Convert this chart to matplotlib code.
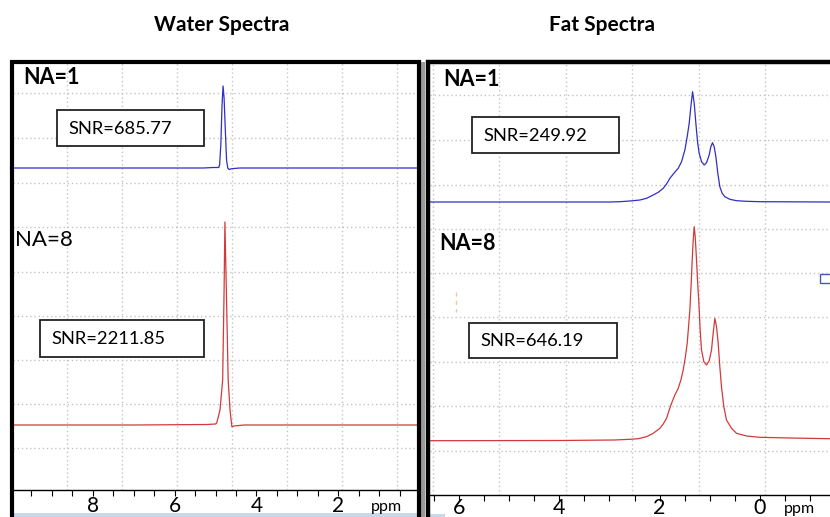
import matplotlib.pyplot as plt
from matplotlib.patches import Rectangle
from matplotlib.ticker import MultipleLocator

W, H = 830, 517

# spectra: chemical shift (ppm) vs signal (a.u., 0 = axis line)
water_na1_ppm = [9.95, 6.0, 5.3, 5.05, 4.95, 4.92, 4.90, 4.87, 4.84, 4.815, 4.79, 4.76,
                 4.73, 4.70, 4.67, 4.64, 4.55, 4.40, 3.0, 0.05]
water_na1_sig = [322, 322, 322, 322.5, 322.5, 322.5, 325, 345, 385, 404, 392, 360,
                 330, 322, 320.5, 321, 321.5, 322, 322, 322]

water_na8_ppm = [9.95, 7.0, 5.2, 5.0, 4.97, 4.89, 4.825, 4.79, 4.77, 4.73, 4.69, 4.645,
                 4.60, 4.55, 4.3, 2.0, 0.05]
water_na8_sig = [65, 65, 65.5, 66, 67, 80, 110, 200, 268, 190, 110, 80,
                 63.3, 64, 65, 65, 65]

fat_na1_ppm = [6.58, 4.0, 3.0, 2.791, 2.592, 2.392, 2.259, 2.127, 2.027, 1.927, 1.861,
               1.794, 1.715, 1.628, 1.562, 1.495, 1.449, 1.409, 1.376, 1.342, 1.309,
               1.276, 1.243, 1.210, 1.163, 1.110, 1.064, 1.010, 0.977, 0.944, 0.911,
               0.877, 0.838, 0.798, 0.751, 0.698, 0.598, 0.465, 0.266, 0.0, -1.40]
fat_na1_sig = [293, 293, 293, 293.3, 294.0, 295, 296.7, 300, 302.7, 306.7, 311,
               316.7, 321.7, 326.7, 333.3, 345, 358.3, 371.7, 388.3, 403.3, 391.7,
               371.7, 353.3, 341.7, 333.3, 330, 332.3, 340, 348.3, 352.3, 348.3,
               338.3, 321.7, 308.3, 301.7, 298.3, 295.7, 294.3, 293.7, 293.3, 293]

fat_na8_ppm = [6.58, 4.0, 2.9, 2.592, 2.426, 2.259, 2.127, 1.994, 1.927, 1.861, 1.808,
               1.761, 1.695, 1.628, 1.575, 1.529, 1.489, 1.449, 1.422, 1.396, 1.369,
               1.349, 1.329, 1.309, 1.289, 1.263, 1.243, 1.216, 1.190, 1.163, 1.117,
               1.064, 1.010, 0.964, 0.931, 0.897, 0.864, 0.831, 0.798, 0.765, 0.718,
               0.665, 0.565, 0.466, 0.266, 0.0, -0.6, -1.40]
fat_na8_sig = [54.3, 54.5, 55, 55.7, 56.3, 58.3, 61.7, 66.7, 71, 76.7, 85,
               91.7, 100, 106.7, 115, 125, 136.7, 151.7, 168.3, 185, 211.7,
               235, 255, 268.3, 258.3, 235, 215, 191.7, 165, 145, 133.3,
               130, 134.3, 145, 161.7, 176.7, 168.3, 151.7, 128.3, 108.3, 88.3,
               75, 66.7, 61.7, 59, 57.7, 57, 56.3]

water_ticks = [8, 6, 4, 2]
fat_ticks = [6, 4, 2, 0]
water_grid_x = [8.63, 7.28, 5.94, 4.60, 3.25, 1.91, 0.56]
water_grid_y = [42, 86, 130, 174, 218, 263, 307, 352, 397]
fat_grid_x = [6.53, 5.20, 3.87, 2.55, 1.22, -0.10]
fat_grid_y = [44, 89, 133, 178, 222, 266, 310, 355, 400]

titles = ["Water Spectra", "Fat Spectra"]
snr_labels = ["SNR=685.77", "SNR=2211.85", "SNR=249.92", "SNR=646.19"]

BLUE = "#2f2fc4"
RED = "#d23a3a"
GRID = "#c4c4c4"

plt.rcParams['font.family'] = ['Lato', 'DejaVu Sans']
fig = plt.figure(figsize=(W / 100, H / 100), dpi=100)


def px_rect(x0, y0, x1, y1):
    return [x0 / W, 1 - y1 / H, (x1 - x0) / W, (y1 - y0) / H]


def setup(ax, xlim, ylim, ticks, gx, gy, fs, pad):
    ax.set_xlim(*xlim)
    ax.set_ylim(*ylim)
    for s in ['left', 'right', 'top']:
        ax.spines[s].set_visible(False)
    ax.spines['bottom'].set_linewidth(1.0)
    ax.set_yticks([])
    ax.set_xticks(ticks)
    ax.xaxis.set_minor_locator(MultipleLocator(0.5))
    ax.tick_params(axis='x', which='both', direction='out', length=4, width=0.8,
                   labelsize=fs, pad=pad)
    for x in gx:
        ax.axvline(x, color=GRID, lw=1, ls=(0, (1, 2)), zorder=0)
    for y in gy:
        ax.axhline(y, color=GRID, lw=1, ls=(0, (1, 2)), zorder=0)


ax_w = fig.add_axes(px_rect(13, 62, 418, 490))
setup(ax_w, (9.95, 0.05), (0, 428), water_ticks, water_grid_x, water_grid_y, 15, 0)
ax_w.plot(water_na1_ppm, water_na1_sig, color=BLUE, lw=0.9)
ax_w.plot(water_na8_ppm, water_na8_sig, color=RED, lw=0.9)

ax_f = fig.add_axes(px_rect(430, 62, 830, 495))
setup(ax_f, (6.58, -1.40), (0, 433), fat_ticks, fat_grid_x, fat_grid_y, 15.5, -1.5)
ax_f.plot(fat_na1_ppm, fat_na1_sig, color=BLUE, lw=0.9)
ax_f.plot(fat_na8_ppm, fat_na8_sig, color=RED, lw=0.9)

# overlay in pixel coordinates for frames, labels and boxes
ov = fig.add_axes([0, 0, 1, 1], zorder=5)
ov.set_xlim(0, W)
ov.set_ylim(H, 0)
ov.axis('off')
ov.patch.set_alpha(0)

# window frames
ov.add_patch(Rectangle((421, 62), 4, H, color="#9a9a9a", lw=0))
ov.plot([11.5, 11.5, 419, 419], [H, 62, 62, H], color='black', lw=3, solid_joinstyle='miter')
ov.plot([427.5, 427.5, W + 5], [H, 62, 62], color='black', lw=3.2, solid_joinstyle='miter')
ov.add_patch(Rectangle((13, 513), 404, 4, color="#c9d7ea", lw=0))
ov.add_patch(Rectangle((430, 514), 15, 3, color="#c9d7ea", lw=0))

ov.text(222, 25, titles[0], ha='center', va='center', fontsize=15, fontweight='bold')
ov.text(602, 25, titles[1], ha='center', va='center', fontsize=15, fontweight='bold')

ov.text(23, 78, "NA=1", ha='left', va='center', fontsize=15.5, fontweight='bold')
ov.text(15, 240, "NA=8", ha='left', va='center', fontsize=16)
ov.text(443, 80, "NA=1", ha='left', va='center', fontsize=15.5, fontweight='bold')
ov.text(439, 243, "NA=8", ha='left', va='center', fontsize=15.5, fontweight='bold')

boxes = [(57, 110, 204, 146), (40, 320, 204, 357), (472, 117, 619, 153), (469, 323, 617, 358)]
text_x = [68, 51, 483, 480]
for (x0, y0, x1, y1), tx, lab in zip(boxes, text_x, snr_labels):
    ov.add_patch(Rectangle((x0, y0), x1 - x0, y1 - y0, facecolor='white',
                           edgecolor='#222222', lw=1.3))
    ov.text(tx, (y0 + y1) / 2 + 1, lab, ha='left', va='center', fontsize=13.2)

ov.text(386, 507, "ppm", ha='center', va='center', fontsize=11.5)
ov.text(799, 509, "ppm", ha='center', va='center', fontsize=11.5)

# small leftover marks in the screenshot
ov.add_patch(Rectangle((820, 274), 12, 9, facecolor='none', edgecolor='#4a55b5', lw=1))
ov.plot([456, 456], [292, 312], color='#f0c890', lw=1, ls=(0, (3, 3)))

fig.savefig("out.png", dpi=100)
